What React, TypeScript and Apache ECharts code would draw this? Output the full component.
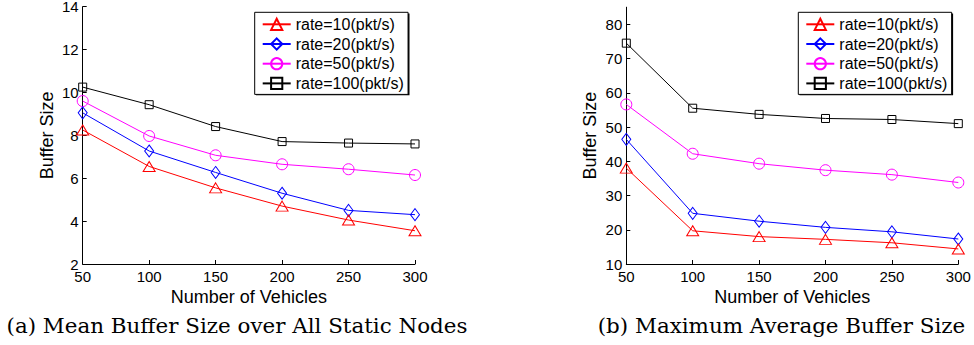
import React, { useEffect, useRef } from 'react';
import * as echarts from 'echarts';

const vehicles = [50, 100, 150, 200, 250, 300];
const seriesNames = ['rate=10(pkt/s)', 'rate=20(pkt/s)', 'rate=50(pkt/s)', 'rate=100(pkt/s)'];

// (a) Mean buffer size over all static nodes
const meanRate10 = [8.25, 6.55, 5.55, 4.7, 4.05, 3.55];
const meanRate20 = [9.05, 7.27, 6.27, 5.3, 4.5, 4.3];
const meanRate50 = [9.6, 7.97, 7.07, 6.65, 6.42, 6.15];
const meanRate100 = [10.25, 9.43, 8.41, 7.71, 7.64, 7.6];

// (b) Maximum average buffer size
const maxRate10 = [38, 19.7, 18, 17.2, 16.2, 14.4];
const maxRate20 = [46.4, 24.8, 22.5, 20.7, 19.4, 17.3];
const maxRate50 = [56.6, 42.2, 39.3, 37.4, 36.1, 33.8];
const maxRate100 = [74.5, 55.5, 53.7, 52.5, 52.2, 51.0];

const xTicks = [50, 100, 150, 200, 250, 300];
const meanTicks = [2, 4, 6, 8, 10, 12, 14];
const maxTicks = [10, 20, 30, 40, 50, 60, 70, 80];

const captionA = '(a) Mean Buffer Size over All Static Nodes';
const captionB = '(b) Maximum Average Buffer Size';
const xName = 'Number of Vehicles';
const yName = 'Buffer Size';

const colors = ['#ff0000', '#0000ff', '#ff00ff', '#000000'];
const symbols = ['triangle', 'diamond', 'circle', 'rect'];
const symbolSizes: any[] = [[12, 10], [9, 12], 11, [8, 8]];

const SANS = '"Liberation Sans", Arial, Helvetica, sans-serif';
const SERIF = '"DejaVu Serif", "Liberation Serif", serif';

export default function App() {
  const ref = useRef<HTMLDivElement>(null);
  useEffect(() => {
    if (!ref.current) return;
    const chart = echarts.init(ref.current, null, { renderer: 'svg' });
    const meanData = [meanRate10, meanRate20, meanRate50, meanRate100];
    const maxData = [maxRate10, maxRate20, maxRate50, maxRate100];

    const mkSeries = (arr: number[], i: number, gi: number) => ({
      type: 'line',
      name: seriesNames[i],
      xAxisIndex: gi,
      yAxisIndex: gi,
      data: vehicles.map((v, k) => [v, arr[k]]),
      symbol: symbols[i],
      symbolSize: symbolSizes[i],
      showAllSymbol: true,
      lineStyle: { color: colors[i], width: 1 },
      itemStyle: { color: 'rgba(0,0,0,0)', borderColor: colors[i], borderWidth: 1 },
      emphasis: { disabled: true },
      z: 10 - i,
    });

    const xAxisBase = (gi: number) => ({
      type: 'value',
      gridIndex: gi,
      min: 50,
      max: 300,
      interval: 50,
      name: xName,
      nameLocation: 'middle',
      nameGap: 20,
      nameTextStyle: { fontSize: 18, color: '#000', fontFamily: SANS },
      axisLine: { show: true, onZero: false, lineStyle: { color: '#000', width: 1 } },
      axisTick: { show: true, inside: true, length: 4, lineStyle: { color: '#000', width: 1 }, customValues: xTicks },
      axisLabel: { color: '#000', fontSize: 15, lineHeight: 12, margin: 6, fontFamily: SANS, customValues: xTicks },
      splitLine: { show: false },
    });

    const yAxisBase = (gi: number, min: number, max: number, interval: number, ticks: number[]) => ({
      type: 'value',
      gridIndex: gi,
      min,
      max,
      interval,
      name: yName,
      nameLocation: 'middle',
      nameGap: 27,
      nameTextStyle: { fontSize: 18, color: '#000', fontFamily: SANS },
      axisLine: { show: true, onZero: false, lineStyle: { color: '#000', width: 1 } },
      axisTick: { show: true, inside: true, length: 4, lineStyle: { color: '#000', width: 1 }, customValues: ticks },
      axisLabel: {
        color: '#000', fontSize: 15, lineHeight: 12, margin: 4, fontFamily: SANS, customValues: ticks,
        formatter: (v: number) => (ticks.indexOf(v) >= 0 ? String(v) : ''),
      },
      splitLine: { show: false },
    });

    const legendBase = (left: number) => ({
      orient: 'vertical',
      left,
      top: 12.3,
      data: seriesNames,
      selectedMode: false,
      itemWidth: 28,
      itemHeight: 14,
      itemGap: 3.7,
      itemTextGap: 4.3,
      padding: [4, 4.3, 3, 7],
      backgroundColor: '#fff',
      borderColor: '#000',
      borderWidth: 1,
      z: 20,
      textStyle: { fontSize: 16, color: '#000', fontFamily: SANS, lineHeight: 16 },
    });

    const legendW = 153.6;
    const legendH = 81.7;

    chart.setOption({
      animation: false,
      backgroundColor: '#fff',
      grid: [
        { left: 82.7, top: 6.7, width: 332.3, height: 257.3, containLabel: false, outerBoundsMode: 'none' },
        { left: 626.3, top: 7.2, width: 332, height: 256.8, containLabel: false, outerBoundsMode: 'none' },
      ],
      xAxis: [xAxisBase(0), xAxisBase(1)],
      yAxis: [yAxisBase(0, 2, 14, 2, meanTicks), yAxisBase(1, 10, 85, 10, maxTicks)],
      legend: [legendBase(254.7), legendBase(798.3)],
      series: [
        ...meanData.map((arr, i) => mkSeries(arr, i, 0)),
        ...maxData.map((arr, i) => mkSeries(arr, i, 1)),
      ],
      graphic: [
        { type: 'rect', z: 15, shape: { x: 254.7 + 1.2, y: 12.3 + 1.2, width: legendW, height: legendH }, style: { fill: '#000' } },
        { type: 'rect', z: 15, shape: { x: 798.3 + 1.2, y: 12.3 + 1.2, width: legendW, height: legendH }, style: { fill: '#000' } },
        {
          type: 'text', x: 237, y: 326, z: 20, scaleX: 1.02,
          style: { text: captionA, font: `21px ${SERIF}`, fill: '#000', textAlign: 'center', textVerticalAlign: 'middle' },
        },
        {
          type: 'text', x: 781.5, y: 326, z: 20, scaleX: 1.02,
          style: { text: captionB, font: `21px ${SERIF}`, fill: '#000', textAlign: 'center', textVerticalAlign: 'middle' },
        },
      ],
    });
    return () => chart.dispose();
  }, []);
  return <div ref={ref} style={{ position: 'fixed', left: 0, top: 0, width: 974, height: 345 }} />;
}
